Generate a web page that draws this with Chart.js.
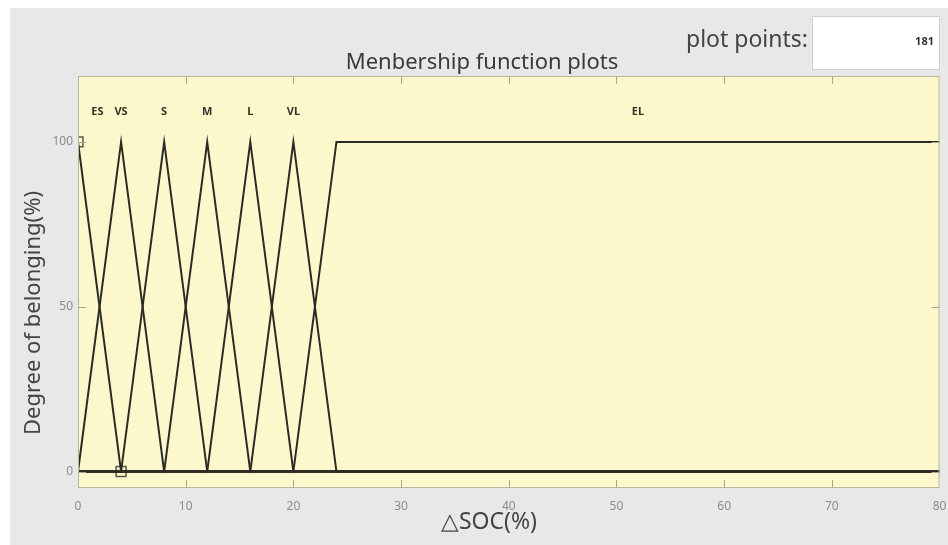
<!DOCTYPE html>
<html>
<head>
<meta charset="utf-8">
<script src="https://cdn.jsdelivr.net/npm/chart.js@4/dist/chart.umd.min.js"></script>
<style>
  html, body { margin: 0; padding: 0; background: #ffffff; }
  #panel { position: absolute; left: 10px; top: 8px; width: 938px; height: 537px; background: #e8e8e8; }
  #wrap { position: absolute; left: 0; top: 0; width: 948px; height: 545px; }
</style>
</head>
<body>
<div id="panel"></div>
<div id="wrap"><canvas id="mfChart" width="948" height="545"></canvas></div>
<script>
// Funzioni di appartenenza (x = ΔSOC %, y = grado %)
const mfNames = ["ES", "VS", "S", "M", "L", "VL", "EL"];
const esX = [0, 4, 80],      esY = [100, 0, 0];
const vsX = [0, 4, 8, 80],   vsY = [0, 100, 0, 0];
const sX  = [0, 4, 8, 12, 80],  sY  = [0, 0, 100, 0, 0];
const mX  = [0, 8, 12, 16, 80], mY  = [0, 0, 100, 0, 0];
const lX  = [0, 12, 16, 20, 80], lY = [0, 0, 100, 0, 0];
const vlX = [0, 16, 20, 24, 80], vlY = [0, 0, 100, 0, 0];
const elX = [0, 20, 24, 80],  elY = [0, 0, 100, 100];

// posizione delle etichette
const labelX = [1.8, 4, 8, 12, 16, 20, 52];
const labelY = 109;

// maniglie della funzione selezionata (ES)
const handleX = [0, 4];
const handleY = [100, 0];

const xTicks = [0, 10, 20, 30, 40, 50, 60, 70, 80];
const yTicks = [0, 50, 100];
const plotPoints = "181";

const mfX = [esX, vsX, sX, mX, lX, vlX, elX];
const mfY = [esY, vsY, sY, mY, lY, vlY, elY];

function toPoints(xs, ys) {
    return xs.map((x, i) => ({ x: x, y: ys[i] }));
}

const lineDatasets = mfNames.map((name, i) => ({
    label: name,
    data: toPoints(mfX[i], mfY[i]),
    showLine: true,
    borderColor: "#2b2b24",
    borderWidth: 2,
    pointRadius: 0,
    fill: false,
    tension: 0
}));

const handleDataset = {
    label: "handles",
    data: toPoints(handleX, handleY),
    showLine: false,
    pointStyle: "rect",
    pointRadius: 7,
    pointBorderWidth: 1.5,
    pointBorderColor: "#55554a",
    pointBackgroundColor: "rgba(0,0,0,0)",
    clip: 0
};

// sfondo giallo, riquadro, tacche interne e testi
const decorPlugin = {
    id: "decor",
    beforeDatasetsDraw(chart) {
        const { ctx, chartArea: a } = chart;
        ctx.save();
        ctx.fillStyle = "#fcf8cc";
        ctx.fillRect(a.left, a.top, a.right - a.left, a.bottom - a.top);
        ctx.restore();
    },
    afterDraw(chart) {
        const { ctx, chartArea: a, scales } = chart;
        const xs = scales.x, ys = scales.y;
        ctx.save();
        // riquadro
        ctx.strokeStyle = "#b9b69a";
        ctx.lineWidth = 1;
        ctx.strokeRect(a.left + 0.5, a.top + 0.5, a.right - a.left - 1, a.bottom - a.top - 1);
        // tacche interne
        ctx.strokeStyle = "#a9a790";
        ctx.beginPath();
        xTicks.forEach(v => {
            if (v === xTicks[0] || v === xTicks[xTicks.length - 1]) return;
            const px = Math.round(xs.getPixelForValue(v)) + 0.5;
            ctx.moveTo(px, a.bottom); ctx.lineTo(px, a.bottom - 8);
            ctx.moveTo(px, a.top); ctx.lineTo(px, a.top + 8);
        });
        yTicks.forEach(v => {
            const py = Math.round(ys.getPixelForValue(v)) + 0.5;
            ctx.moveTo(a.left, py); ctx.lineTo(a.left + 8, py);
            ctx.moveTo(a.right, py); ctx.lineTo(a.right - 8, py);
        });
        ctx.stroke();

        // etichette delle funzioni
        ctx.fillStyle = "#333328";
        ctx.font = "bold 11px 'Noto Sans', sans-serif";
        ctx.textAlign = "center";
        ctx.textBaseline = "middle";
        mfNames.forEach((name, i) => {
            ctx.fillText(name, xs.getPixelForValue(labelX[i]), ys.getPixelForValue(labelY));
        });

        // titolo
        ctx.fillStyle = "#3a3a3a";
        ctx.font = "22px 'Noto Sans', sans-serif";
        ctx.textBaseline = "alphabetic";
        ctx.fillText("Menbership function plots", 482, 69);

        // titoli assi
        ctx.fillStyle = "#444444";
        ctx.font = "23px 'Noto Sans', sans-serif";
        ctx.textBaseline = "middle";
        ctx.fillText("\u25B3SOC(%)", 489, 522);
        ctx.save();
        ctx.font = "22px 'Noto Sans', sans-serif";
        ctx.translate(34, 313);
        ctx.rotate(-Math.PI / 2);
        ctx.fillText("Degree of belonging(%)", 0, 0);
        ctx.restore();

        // casella plot points
        ctx.textAlign = "right";
        ctx.font = "23px 'Noto Sans', sans-serif";
        ctx.fillText("plot points:", 808, 40);
        ctx.fillStyle = "#ffffff";
        ctx.fillRect(812, 16, 128, 54);
        ctx.strokeStyle = "#d0d0d0";
        ctx.strokeRect(812.5, 16.5, 127, 53);
        ctx.fillStyle = "#333333";
        ctx.font = "bold 11px 'Noto Sans', sans-serif";
        ctx.fillText(plotPoints, 934, 42);
        ctx.restore();
    }
};

const ctx = document.getElementById("mfChart").getContext("2d");
window.myChart = new Chart(ctx, {
    type: "scatter",
    data: { datasets: [...lineDatasets, handleDataset] },
    options: {
        responsive: false,
        animation: false,
        events: [],
        layout: { padding: { left: 10, top: 76, right: 8, bottom: 0 } },
        plugins: { legend: { display: false }, tooltip: { enabled: false } },
        scales: {
            x: {
                type: "linear",
                min: 0,
                max: 80,
                afterBuildTicks: s => { s.ticks = xTicks.map(v => ({ value: v })); },
                afterFit: s => { s.height = 57; s.paddingRight = 0; s.paddingLeft = 0; },
                grid: { display: false, drawTicks: false },
                border: { display: false },
                ticks: { color: "#8c8c8c", font: { size: 12, family: "Noto Sans" }, padding: 11, maxRotation: 0 }
            },
            y: {
                type: "linear",
                min: -5,
                max: 120,
                afterBuildTicks: s => { s.ticks = yTicks.map(v => ({ value: v })); },
                afterFit: s => { s.width = 68; s.paddingTop = 0; s.paddingBottom = 0; },
                grid: { display: false, drawTicks: false },
                border: { display: false },
                ticks: { color: "#8c8c8c", font: { size: 12, family: "Noto Sans" }, padding: 5 }
            }
        }
    },
    plugins: [decorPlugin]
});
</script>
</body>
</html>
